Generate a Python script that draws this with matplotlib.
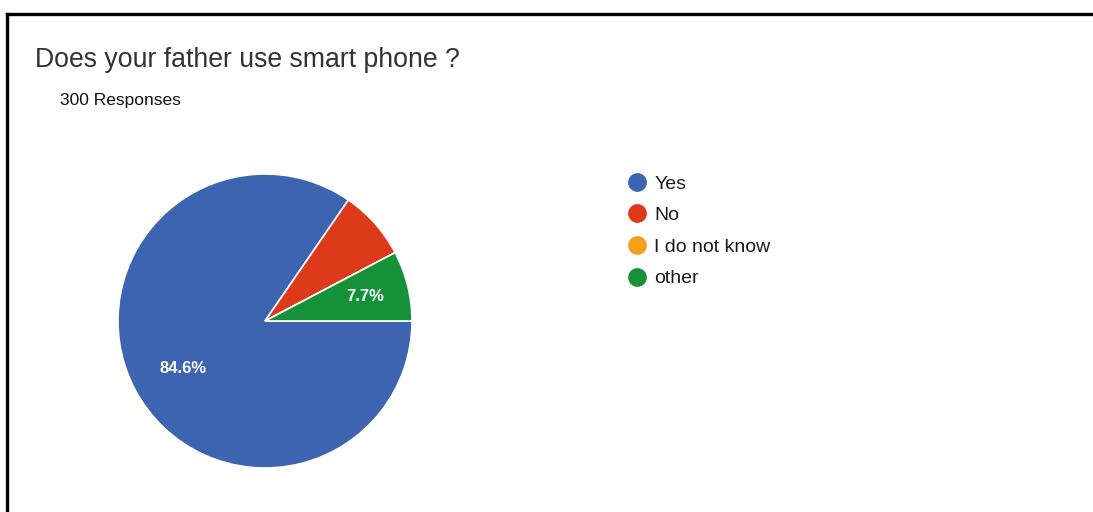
import matplotlib.pyplot as plt
from matplotlib.lines import Line2D

# Survey answers
answers = ["Yes", "No", "I do not know", "other"]
shares = [84.6, 7.7, 0.0, 7.7]
colors = ["#3c64b1", "#dc3a1a", "#f5a01b", "#15913a"]

# Only these slices carry a percentage label, with their label position
pct_labels = {"Yes": (-0.56, -0.32), "other": (0.68, 0.17)}

title = "Does your father use smart phone ?"
subtitle = "300 Responses"

W, H = 1093, 512
fig = plt.figure(figsize=(W / 100, H / 100), dpi=100)
fig.patch.set_facecolor("white")

# Frame lines along the top and left edges
fig.add_artist(Line2D([7 / W, 1], [1 - 13.5 / H] * 2, color="black", lw=2.4))
fig.add_artist(Line2D([7 / W] * 2, [0, 1 - 13.5 / H], color="black", lw=2.4))

fig.text(35 / W, 1 - 60 / H, title, fontsize=19.2, color="#333333",
         family="Liberation Sans", va="center", ha="left")
fig.text(60 / W, 1 - 101 / H, subtitle, fontsize=12.5, color="#111111",
         family="Liberation Sans", va="center", ha="left")

# Pie axes: centre and radius in pixels
cx, cy, r = 265, 321, 147
ax = fig.add_axes([(cx - r) / W, 1 - (cy + r) / H, 2 * r / W, 2 * r / H])
wedges, _ = ax.pie(shares, colors=colors, startangle=0, counterclock=False,
                   radius=1, wedgeprops=dict(edgecolor="white", linewidth=1.2))
ax.set_xlim(-1, 1)
ax.set_ylim(-1, 1)
ax.set_aspect("equal")
ax.axis("off")

for name, share in zip(answers, shares):
    if name in pct_labels:
        x, y = pct_labels[name]
        ax.text(x, y, f"{share:.1f}%", color="white", fontsize=12,
                weight="bold", family="Liberation Sans",
                ha="center", va="center")

handles = [Line2D([], [], marker="o", linestyle="none", markersize=12.5,
                  markerfacecolor=c, markeredgecolor=c) for c in colors]
fig.legend(handles, answers, loc="upper left",
           bbox_to_anchor=(628 / W, 1 - 175 / H), frameon=False,
           prop=dict(family="Liberation Sans", size=14),
           labelcolor="#1a1a1a", handlelength=0.9, handletextpad=0.45,
           labelspacing=0.72, borderpad=0, borderaxespad=0)

fig.savefig("out.png", dpi=100)
